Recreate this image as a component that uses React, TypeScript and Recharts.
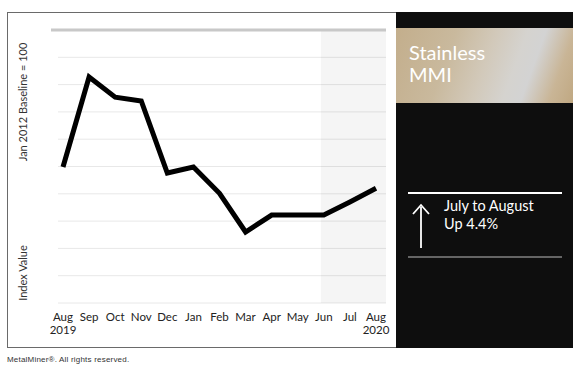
import React from 'react'
import {
  LineChart,
  Line,
  XAxis,
  YAxis,
  CartesianGrid,
  ReferenceArea,
  ReferenceLine,
} from 'recharts'

// Stainless MMI, Aug 2019 - Aug 2020
const months = ['Aug', 'Sep', 'Oct', 'Nov', 'Dec', 'Jan', 'Feb', 'Mar', 'Apr', 'May', 'Jun', 'Jul', 'Aug']
const years = ['2019', '', '', '', '', '', '', '', '', '', '', '', '2020']
const indexValues = [64.9, 81.4, 77.7, 77.0, 63.8, 64.9, 60.1, 53.0, 56.1, 56.1, 56.1, 58.5, 61.0]
const yTicks = [40, 45, 50, 55, 60, 65, 70, 75, 80, 85, 90]

const data = months.map((m, i) => ({ key: `${m}-${i}`, value: indexValues[i] }))

const FONT = 'Lato, "Open Sans", sans-serif'

const MonthTick = (props: any) => {
  const { x, y, index } = props
  return (
    <text x={x} y={y} textAnchor="middle" fontFamily={FONT} fontSize={11.5} fill="#222">
      <tspan x={x} dy={10}>{months[index]}</tspan>
      {years[index] ? (
        <tspan x={x} dy={13}>
          {years[index]}
        </tspan>
      ) : null}
    </text>
  )
}

const StainlessChart = () => {
  return (
    <LineChart
      width={396}
      height={348}
      data={data}
      margin={{ top: 30, right: 10, bottom: 15, left: 58 }}
      style={{ position: 'absolute', left: 0, top: 0 }}
    >
      <CartesianGrid vertical={false} stroke="#e8e8e8" strokeWidth={1} />
      {/* forecast-ish shaded zone, Jun onward */}
      <ReferenceArea
        x1={data[10].key}
        x2={data[12].key}
        stroke="none"
        shape={(p: any) => (
          <rect x={p.x - 3} y={p.y} width={p.width + 13} height={p.height} fill="#000" fillOpacity={0.04} />
        )}
      />
      <ReferenceLine
        y={90}
        shape={(p: any) => (
          <line x1={p.x1 - 7} y1={p.y1} x2={p.x2} y2={p.y2} stroke="#c8c8c8" strokeWidth={3} />
        )}
      />
      <XAxis
        dataKey="key"
        height={30}
        interval={0}
        axisLine={false}
        tickLine={false}
        padding={{ left: 5, right: 10 }}
        tick={<MonthTick />}
      />
      <YAxis hide domain={[40, 90]} ticks={yTicks} />
      <Line
        type="linear"
        dataKey="value"
        stroke="#000"
        strokeWidth={5}
        dot={false}
        activeDot={false}
        isAnimationActive={false}
      />
    </LineChart>
  )
}

export default function App() {
  return (
    <div style={{ position: 'absolute', left: 0, top: 0, width: 580, height: 369, background: '#fff', overflow: 'hidden' }}>
      {/* outer frame */}
      <div
        style={{
          position: 'absolute',
          left: 7,
          top: 12,
          width: 566,
          height: 336,
          border: '1px solid #6a6a6a',
          boxSizing: 'border-box',
        }}
      />
      <StainlessChart />
      {/* axis titles */}
      <svg width={40} height={320} style={{ position: 'absolute', left: 0, top: 0 }}>
        <text
          transform="translate(27,102) rotate(-90)"
          textAnchor="middle"
          fontFamily={FONT}
          fontSize={11}
          fill="#333"
        >
          Jan 2012 Baseline = 100
        </text>
        <text
          transform="translate(27,273) rotate(-90)"
          textAnchor="middle"
          fontFamily={FONT}
          fontSize={11}
          fill="#333"
        >
          Index Value
        </text>
      </svg>
      {/* right panel */}
      <div style={{ position: 'absolute', left: 396, top: 12, width: 177, height: 336, background: '#0e0e0e' }}>
        <div
          style={{
            position: 'absolute',
            left: 0,
            top: 16,
            width: 177,
            height: 75,
            background:
              'linear-gradient(110deg, #c3ae8c 0%, #c9b99d 30%, #d2c9ba 50%, #d5d3cf 65%, #d3d3d3 74%, #c9b596 88%, #c0a882 100%)',
          }}
        />
        <div
          style={{
            position: 'absolute',
            left: 13,
            top: 29,
            color: '#fff',
            fontFamily: FONT,
            fontSize: 20,
            lineHeight: '22px',
          }}
        >
          Stainless
          <br />
          MMI
        </div>
        <svg width={177} height={336} style={{ position: 'absolute', left: 0, top: 0 }}>
          <line x1={12} y1={181} x2={166} y2={181} stroke="#fff" strokeWidth={2} />
          <line x1={12} y1={245} x2={166} y2={245} stroke="#bbb" strokeWidth={1} />
          <line x1={25} y1={195} x2={25} y2={236} stroke="#fff" strokeWidth={1.8} />
          <polyline points="17,202 25,193 33,202" fill="none" stroke="#fff" strokeWidth={1.8} />
        </svg>
        <div
          style={{
            position: 'absolute',
            left: 48,
            top: 185,
            color: '#fff',
            fontFamily: FONT,
            fontSize: 14.5,
            lineHeight: '18px',
          }}
        >
          July to August
          <br />
          Up 4.4%
        </div>
      </div>
      <div
        style={{
          position: 'absolute',
          left: 7,
          top: 355,
          fontFamily: '"Liberation Sans", Arial, sans-serif',
          fontSize: 8,
          letterSpacing: 0.2,
          color: '#333',
          whiteSpace: 'nowrap',
        }}
      >
        MetalMiner®. All rights reserved.
      </div>
    </div>
  )
}
